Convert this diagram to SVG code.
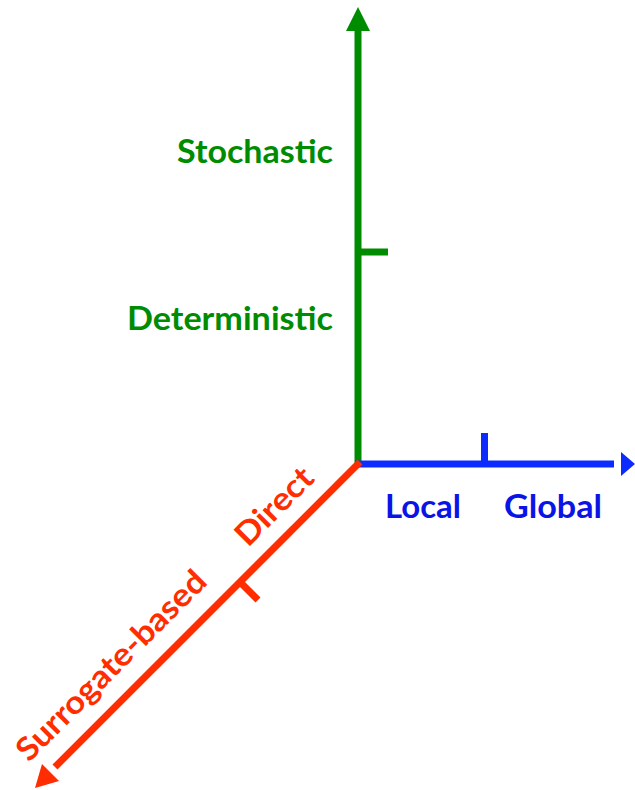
<svg xmlns="http://www.w3.org/2000/svg" width="635" height="790" viewBox="0 0 635 790">
<style>
.lbl{font-family:Lato,"Open Sans","Liberation Sans",sans-serif;font-weight:bold;font-size:32px}
.g{fill:#008C00}.b{fill:#0A14E6}.r{fill:#FF2D00}
.ax{stroke-width:7;fill:none;stroke-linecap:butt}
</style>
<rect width="635" height="790" fill="#fff"/>
<g id="connectors">
<line class="ax" x1="358" y1="464" x2="358" y2="28" stroke="#008C00"/>
<polygon points="358,7 346,31 370,31" fill="#008C00"/>
<line class="ax" x1="358" y1="252" x2="388" y2="252" stroke="#008C00"/>
<line class="ax" x1="355" y1="464" x2="614" y2="464" stroke="#0D2BFF"/>
<polygon points="635,464 621,452 621,476" fill="#0D2BFF"/>
<line class="ax" x1="484.5" y1="433" x2="484.5" y2="464" stroke="#0D2BFF"/>
<line class="ax" x1="360" y1="462" x2="55" y2="767" stroke="#FF2D00"/>
<polygon points="35,788 42,764 59,781" fill="#FF2D00"/>
<line class="ax" x1="240" y1="582" x2="258" y2="600" stroke="#FF2D00"/>
</g>
<g id="stochastic"><text class="lbl g" x="333" y="163" text-anchor="end" textLength="156" lengthAdjust="spacingAndGlyphs">Stochastic</text></g>
<g id="deterministic"><text class="lbl g" x="333" y="330" text-anchor="end" textLength="206" lengthAdjust="spacingAndGlyphs">Deterministic</text></g>
<g id="local"><text class="lbl b" x="385" y="518" textLength="76" lengthAdjust="spacingAndGlyphs">Local</text></g>
<g id="global"><text class="lbl b" x="504" y="518" textLength="98" lengthAdjust="spacingAndGlyphs">Global</text></g>
<g id="direct"><text class="lbl r" transform="translate(248,548) rotate(-45)" textLength="96" lengthAdjust="spacingAndGlyphs">Direct</text></g>
<g id="surrogate"><text class="lbl r" transform="translate(29,763) rotate(-45)" textLength="254" lengthAdjust="spacingAndGlyphs">Surrogate-based</text></g>
</svg>
